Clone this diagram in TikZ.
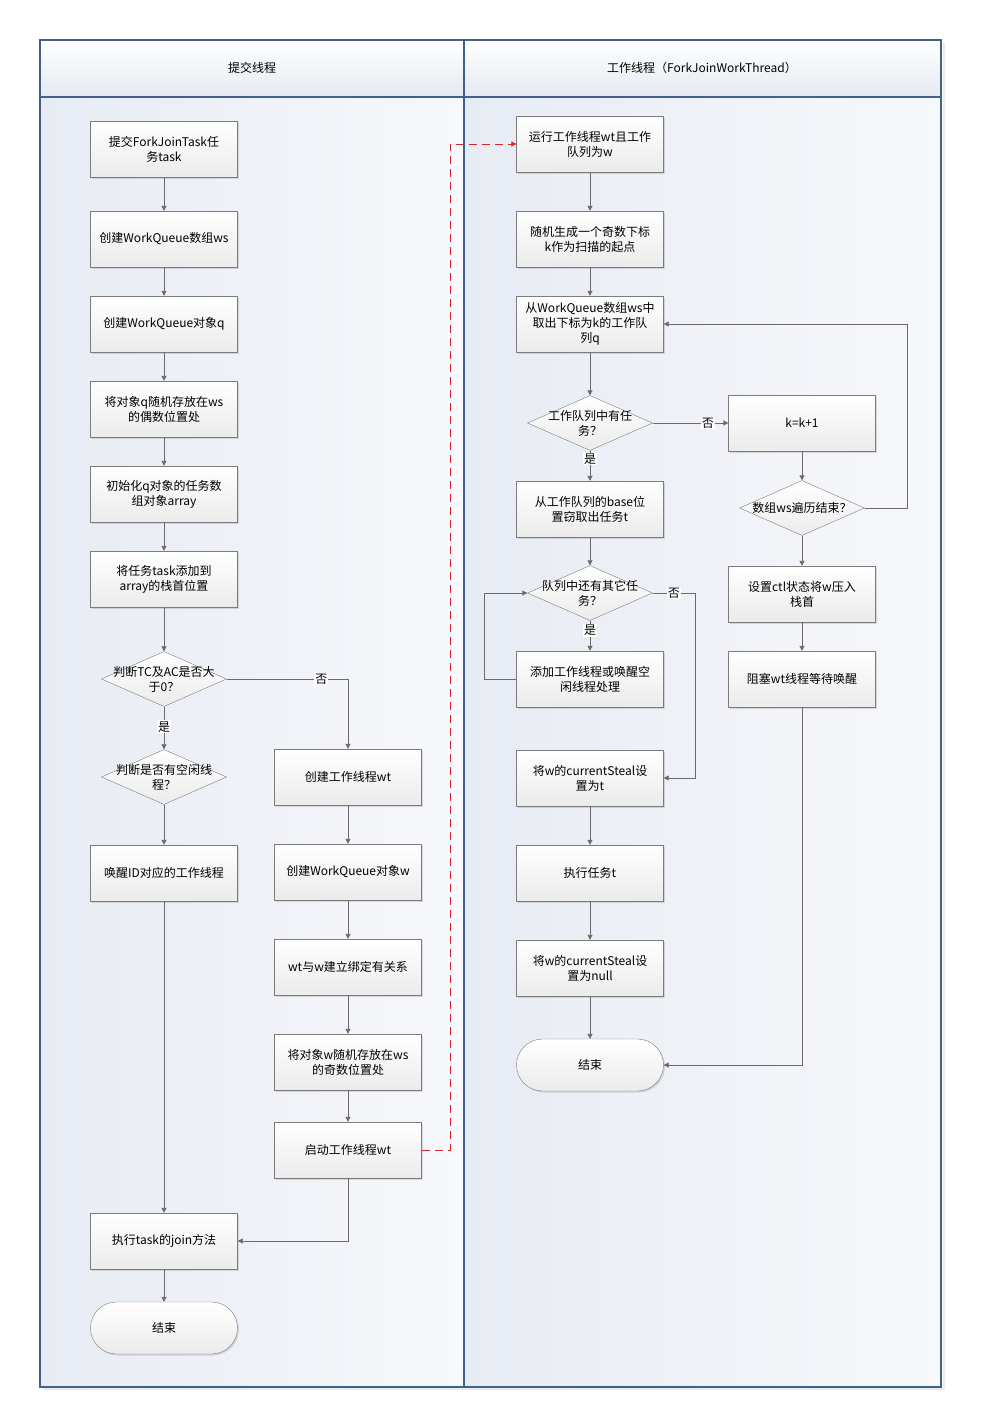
\documentclass[tikz,border=0pt]{standalone}
\usepackage{fontspec}
\usepackage{tikz}
\newfontfamily\cjk{Noto Sans CJK SC}
\definecolor{lanebd}{HTML}{41618A}
\definecolor{laneleft}{HTML}{E7EBF3}
\definecolor{laneright}{HTML}{F7F8FB}
\definecolor{headlow}{HTML}{E4E9F1}
\definecolor{boxlow}{HTML}{EBEBEB}
\definecolor{boxbd}{HTML}{7C7C7C}
\definecolor{flow}{HTML}{6A6A6A}
\definecolor{jumpred}{HTML}{D9262B}
\usetikzlibrary{arrows.meta, shapes.geometric, shadows}

\tikzset{
	procbox/.style={draw=boxbd, rectangle, align=center, minimum width=147pt, minimum height=56pt, top color=white, bottom color=boxlow, drop shadow={shadow xshift=1.5pt, shadow yshift=-1.5pt, fill=black, opacity=0.12}},
	endbox/.style={procbox, rounded corners=26pt, minimum height=52pt},
	decide/.style={draw=boxbd, diamond, minimum width=125pt, minimum height=55pt, inner sep=0pt, top color=white, bottom color=boxlow},
	flowline/.style={draw=flow, line width=0.9pt, ->},
	yesno/.style={fill=white, inner sep=1pt}
}

\begin{document}
\begin{tikzpicture}[x=1pt, y=-1pt, node distance=85pt, font=\cjk\fontsize{12}{15}\selectfont, >={Triangle[length=5pt, width=5pt]}]
	\useasboundingbox (0,0) rectangle (982,1428);
	
	% swimlanes
	\fill[black!8] (943,43) rectangle (945,1390);
	\fill[black!8] (43,1388) rectangle (945,1390);
	\shade[left color=laneleft, right color=laneright] (40,97) rectangle (464,1387);
	\shade[left color=laneleft, right color=laneright] (464,97) rectangle (941,1387);
	\shade[top color=white, bottom color=headlow] (40,40) rectangle (464,97);
	\shade[top color=white, bottom color=headlow] (464,40) rectangle (941,97);
	\draw[lanebd, line width=1.2pt] (40,40) rectangle (941,1387);
	\draw[lanebd, line width=1.2pt] (464,40) -- (464,1387);
	\draw[lanebd, line width=1.2pt] (40,97) -- (941,97);
	\node (submitlane) at (252,68) {提交线程};
	\node (worklane) at (702,68) {工作线程（ForkJoinWorkThread）};
	
	% submitting thread
	\node[procbox] (submit) at (164,149) {提交ForkJoinTask任\\务task};
	\node[procbox, below of=submit, yshift=-5pt] (mkarray) {创建WorkQueue数组ws};
	\node[procbox, below of=mkarray] (mkq) {创建WorkQueue对象q};
	\node[procbox, below of=mkq] (putq) {将对象q随机存放在ws\\的偶数位置处};
	\node[procbox, below of=putq] (initq) {初始化q对象的任务数\\组对象array};
	\node[procbox, below of=initq] (push) {将任务task添加到\\array的栈首位置};
	\node[decide, below of=push, yshift=-15pt, label={[align=center]center:判断TC及AC是否大\\于0？}] (tcac) {};
	\node[decide, below of=tcac, yshift=-13pt, label={[align=center]center:判断是否有空闲线\\程？}] (idle) {};
	\node[procbox, below of=idle, yshift=-11pt] (wake) {唤醒ID对应的工作线程};
	\node[procbox, below of=wake, yshift=-283pt] (join) {执行task的join方法};
	\node[endbox, below of=join, yshift=-2pt] (endsub) {结束};
	
	\node[procbox, right of=idle, xshift=99pt] (mkwt) {创建工作线程wt};
	\node[procbox, below of=mkwt, yshift=-10pt] (mkw) {创建WorkQueue对象w};
	\node[procbox, below of=mkw, yshift=-10pt] (bind) {wt与w建立绑定有关系};
	\node[procbox, below of=bind, yshift=-10pt] (putw) {将对象w随机存放在ws\\的奇数位置处};
	\node[procbox, below of=putw, yshift=-3pt] (launch) {启动工作线程wt};
	
	% worker thread
	\node[procbox] (run) at (590,144) {运行工作线程wt且工作\\队列为w};
	\node[procbox, below of=run, yshift=-10pt] (rand) {随机生成一个奇数下标\\k作为扫描的起点};
	\node[procbox, below of=rand] (take) {从WorkQueue数组ws中\\取出下标为k的工作队\\列q};
	\node[decide, below of=take, yshift=-14pt, label={[align=center]center:工作队列中有任\\务？}] (has) {};
	\node[procbox, below of=has, yshift=-1pt] (steal) {从工作队列的base位\\置窃取出任务t};
	\node[decide, below of=steal, yshift=1pt, label={[align=center]center:队列中还有其它任\\务？}] (more) {};
	\node[procbox, below of=more, yshift=-1pt] (help) {添加工作线程或唤醒空\\闲线程处理};
	\node[procbox, below of=help, yshift=-14pt] (setcs) {将w的currentSteal设\\置为t};
	\node[procbox, below of=setcs, yshift=-10pt] (exec) {执行任务t};
	\node[procbox, below of=exec, yshift=-10pt] (setnull) {将w的currentSteal设\\置为null};
	\node[endbox, below of=setnull, yshift=-12pt] (endwork) {结束};
	
	\node[procbox, right of=has, xshift=127pt] (inck) {k=k+1};
	\node[decide, below of=inck, label={[align=center]center:数组ws遍历结束？}] (done) {};
	\node[procbox, below of=done, yshift=-1pt] (park) {设置ctl状态将w压入\\栈首};
	\node[procbox, below of=park] (block) {阻塞wt线程等待唤醒};
	
	\coordinate (jump) at (450,144);
	\coordinate (loopx) at (484,593);
	\coordinate (nox) at (695,593);
	\coordinate (back) at (907,508);
	
	% connectors
	\draw[flowline] (submit) -- (mkarray);
	\draw[flowline] (mkarray) -- (mkq);
	\draw[flowline] (mkq) -- (putq);
	\draw[flowline] (putq) -- (initq);
	\draw[flowline] (initq) -- (push);
	\draw[flowline] (push) -- (tcac);
	\draw[flowline] (tcac) -- node[yesno, pos=0.47] {是} (idle);
	\draw[flowline] (tcac) -| node[yesno, pos=0.39] {否} (mkwt);
	\draw[flowline] (idle) -- (wake);
	\draw[flowline] (wake) -- (join);
	\draw[flowline] (mkwt) -- (mkw);
	\draw[flowline] (mkw) -- (bind);
	\draw[flowline] (bind) -- (putw);
	\draw[flowline] (putw) -- (launch);
	\draw[flowline] (launch) |- (join);
	\draw[flowline] (join) -- (endsub);
	\draw[->, jumpred, line width=0.9pt, dash pattern=on 8pt off 5pt] (launch) -| (jump) -- (run);
	
	\draw[flowline] (run) -- (rand);
	\draw[flowline] (rand) -- (take);
	\draw[flowline] (take) -- (has);
	\draw[flowline] (has) -- node[yesno, pos=0.27] {是} (steal);
	\draw[flowline] (has) -- node[yesno, pos=0.73] {否} (inck);
	\draw[flowline] (inck) -- (done);
	\draw[flowline] (done) -- (back) |- (take);
	\draw[flowline] (done) -- (park);
	\draw[flowline] (park) -- (block);
	\draw[flowline] (block) |- (endwork);
	\draw[flowline] (steal) -- (more);
	\draw[flowline] (more) -- node[yesno, pos=0.33] {是} (help);
	\draw[flowline] (help) -| (loopx) -- (more);
	\draw[flowline] (more) -- node[yesno] {否} (nox) |- (setcs);
	\draw[flowline] (setcs) -- (exec);
	\draw[flowline] (exec) -- (setnull);
	\draw[flowline] (setnull) -- (endwork);
\end{tikzpicture}
\end{document}
